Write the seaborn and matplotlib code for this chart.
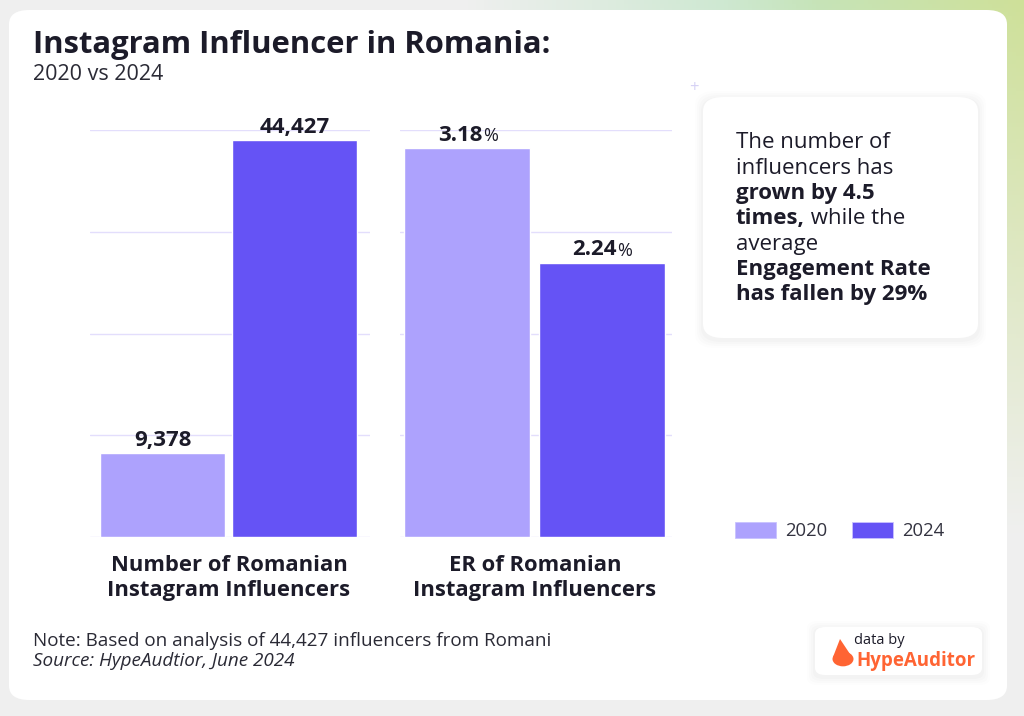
import numpy as np
import pandas as pd
import matplotlib.pyplot as plt
import seaborn as sns
from matplotlib.patches import FancyBboxPatch, Polygon, Circle
from matplotlib.text import Annotation

years = ["2020", "2024"]
influencers = [9378, 44427]
er_values = [3.18, 2.24]
influencer_labels = ["9,378", "44,427"]
er_labels = ["3.18", "2.24"]
panel_titles = ["Number of Romanian\nInstagram Influencers", "ER of Romanian\nInstagram Influencers"]
colors = {"2020": "#ada2fd", "2024": "#6553f5"}

sns.set_theme(style="white")
plt.rcParams['font.family'] = ['Open Sans', 'DejaVu Sans']
dark = "#1c1b29"

W, H = 1024, 716
fig = plt.figure(figsize=(W / 100, H / 100), dpi=100)


def fx(px):
    return px / W


def fy(py):
    return 1 - py / H


def soft_box(x, y, w, h, r, z):
    # white rounded box with a faint shadow, coords in pixels from top-left
    for off, a in [(8, 0.008), (6, 0.010), (4, 0.012), (2, 0.015)]:
        sh = FancyBboxPatch((fx(x - off), fy(y + h + off + 2)), fx(w + 2 * off), (h + 2 * off) / H,
                            boxstyle=f"round,pad=0,rounding_size={r}",
                            transform=fig.transFigure, fc="black", alpha=a, ec="none", zorder=z)
        fig.patches.append(sh)
    b = FancyBboxPatch((fx(x), fy(y + h)), fx(w), h / H,
                       boxstyle=f"round,pad=0,rounding_size={r}",
                       transform=fig.transFigure, fc="white", ec="none", zorder=z + 0.5)
    fig.patches.append(b)


# background: grey with green tint in the top right
bg = fig.add_axes([0, 0, 1, 1], zorder=-10)
xs = np.linspace(0, 1, 256)
ys = np.linspace(0, 1, 180)
X, Y = np.meshgrid(xs, ys)
grey = np.array([0.94, 0.94, 0.94])
mint = np.array([0.76, 0.90, 0.78])
lime = np.array([0.81, 0.88, 0.60])
wx = np.clip((X - 0.45) / 0.35, 0, 1)
wy = np.clip(1 - Y / 0.75, 0, 1)
mix = np.clip((X - 0.7) / 0.3, 0, 1)[..., None]
green = mint * (1 - mix) + lime * mix
w = (wx * wy)[..., None]
img = grey * (1 - w) + green * w
bg.imshow(img, aspect="auto", extent=[0, 1, 1, 0])
bg.set_xlim(0, 1)
bg.set_ylim(1, 0)
bg.axis("off")

# white card
card = FancyBboxPatch((fx(9), fy(700)), fx(998), 690 / H,
                      boxstyle="round,pad=0,rounding_size=0.02",
                      transform=fig.transFigure, fc="white", ec="none", zorder=-5)
fig.patches.append(card)

# title
fig.text(fx(33), fy(45), "Instagram Influencer in Romania:", fontsize=22.3,
         fontweight="bold", color=dark, va="center")
fig.text(fx(33), fy(75), "2020 vs 2024", fontsize=15.5, color="#2a2a35", va="center")

# bar panels
df1 = pd.DataFrame({"year": years, "value": influencers})
df2 = pd.DataFrame({"year": years, "value": er_values})

ax1 = fig.add_axes([fx(90), fy(537), fx(280), 407 / H])
ax2 = fig.add_axes([fx(400), fy(537), fx(272), 407 / H])

sns.barplot(data=df1, x="year", y="value", hue="year", palette=colors,
            width=0.947, ax=ax1, legend=False, saturation=1)
sns.barplot(data=df2, x="year", y="value", hue="year", palette=colors,
            width=0.937, ax=ax2, legend=False, saturation=1)

ax1.set_ylim(0, 45600)
ax1.set_yticks(np.linspace(0, 45600, 5))
ax1.set_xlim(-0.55, 1.57)
ax2.set_ylim(0, 3.33)
ax2.set_yticks(np.linspace(0, 3.33, 5))
ax2.set_xlim(-0.5, 1.524)

for ax in (ax1, ax2):
    ax.set_facecolor("none")
    ax.grid(axis="y", color="#e3defc", lw=1)
    ax.set_axisbelow(True)
    sns.despine(ax=ax, left=True, bottom=True)
    ax.set_xlabel("")
    ax.set_ylabel("")
    ax.set_xticklabels([])
    ax.set_yticklabels([])
    ax.tick_params(length=0)

for bar, lab in zip(ax1.patches, influencer_labels):
    ax1.annotate(lab, (bar.get_x() + bar.get_width() / 2, bar.get_height()),
                 xytext=(0, 2), textcoords="offset points", ha="center", va="bottom",
                 fontsize=16, fontweight="bold", color=dark)

for bar, lab in zip(ax2.patches, er_labels):
    t = ax2.annotate(lab, (bar.get_x() + bar.get_width() / 2, bar.get_height()),
                     xytext=(-5, 2), textcoords="offset points", ha="center", va="bottom",
                     fontsize=16, fontweight="bold", color=dark)
    ax2.annotate("%", xy=(1, 0), xycoords=t, xytext=(0.5, 0.5), textcoords="offset points",
                 ha="left", va="bottom", fontsize=13, color=dark)

fig.text(fx(229), fy(578), panel_titles[0], fontsize=15.8, fontweight="bold",
         color=dark, ha="center", va="center", linespacing=1.2)
fig.text(fx(535), fy(578), panel_titles[1], fontsize=15.8, fontweight="bold",
         color=dark, ha="center", va="center", linespacing=1.2)

# small plus mark
fig.text(fx(694), fy(88), "+", fontsize=12, color="#d6d2f5", ha="center", va="center")

# callout box
soft_box(703, 97, 275, 241, 0.02, 1)

lines = [
    [("The number of", "normal")],
    [("influencers has", "normal")],
    [("grown by 4.5", "bold")],
    [("times,", "bold"), (" while the", "normal")],
    [("average", "normal")],
    [("Engagement Rate", "bold")],
    [("has fallen by 29%", "bold")],
]
for i, parts in enumerate(lines):
    y = fy(143 + i * 25.3)
    last = None
    for txt, wt in parts:
        if last is None:
            last = fig.text(fx(736), y, txt, fontsize=16, fontweight=wt,
                            color=dark, va="center", zorder=3)
        else:
            ann = Annotation(txt, xy=(1, 0), xycoords=last, xytext=(0, 0),
                             textcoords="offset points", va="bottom", ha="left",
                             fontsize=16, fontweight=wt, color=dark)
            ann.set_zorder(3)
            fig.add_artist(ann)
            last = ann

# legend
handles = [plt.Rectangle((0, 0), 1, 1, fc=colors[y], ec="#c9c2ff", lw=0.6) for y in years]
fig.legend(handles, years, loc="center left", bbox_to_anchor=(fx(735), fy(531)),
           ncol=2, frameon=False, fontsize=13.3, handlelength=2.2, handleheight=0.95,
           columnspacing=1.35, handletextpad=0.5, borderpad=0, borderaxespad=0,
           labelcolor="#333340")

# footnote
fig.text(fx(33), fy(641), "Note: Based on analysis of 44,427 influencers from Romani",
         fontsize=13.6, color="#2a2a35", va="center")
fig.text(fx(33), fy(661), "Source: HypeAudtior, June 2024", fontsize=13.6,
         style="italic", color="#2a2a35", va="center")

# logo badge
soft_box(815, 627, 167, 48, 0.01, 1)
orange = "#ff6433"
fig.patches.append(Circle((fx(843), fy(659)), fx(10.5), transform=fig.transFigure,
                          fc=orange, ec="none", zorder=3))
fig.patches.append(Polygon([(fx(833), fy(657)), (fx(840), fy(639)), (fx(852), fy(657))],
                           closed=True, transform=fig.transFigure, fc=orange, ec="none", zorder=3))
fig.text(fx(854), fy(641), "data by", fontsize=10.5, color=dark, va="center", zorder=4)
fig.text(fx(856), fy(661), "HypeAuditor", fontsize=13.5, fontweight="bold",
         color=orange, va="center", zorder=4)

fig.savefig("out.png", dpi=100)
